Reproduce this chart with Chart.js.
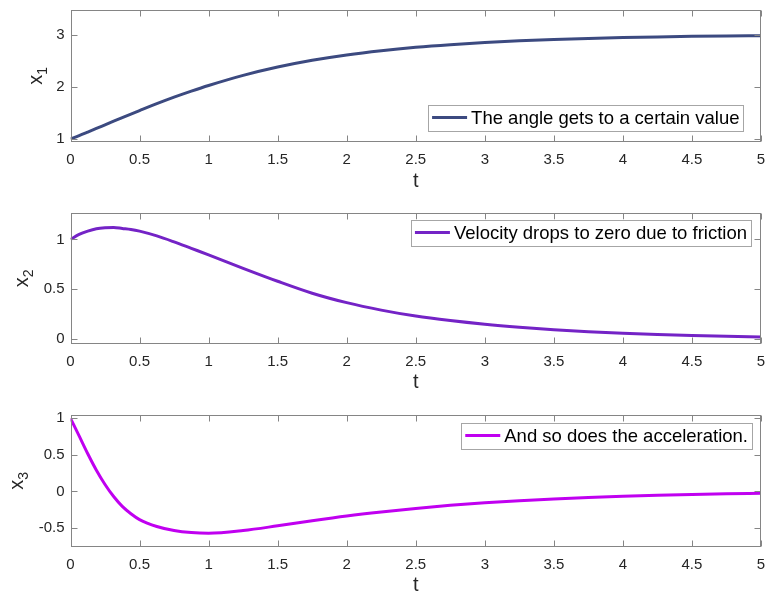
<!DOCTYPE html>
<html>
<head>
<meta charset="utf-8">
<script src="https://cdn.jsdelivr.net/npm/chart.js@4/dist/chart.umd.min.js"></script>
<style>
  html, body { margin: 0; padding: 0; background: #ffffff; overflow: hidden; }
  body { width: 767px; height: 593px; position: relative; }
  canvas { position: absolute; left: 0; }
</style>
</head>
<body>
<canvas id="c1" width="767" height="200" style="top:0px"></canvas>
<canvas id="c2" width="767" height="200" style="top:200px"></canvas>
<canvas id="c3" width="767" height="200" style="top:400px"></canvas>
<script>
// ---- data ----
const tValues = [0, 0.0625, 0.125, 0.1875, 0.25, 0.3125, 0.375, 0.4375, 0.5,
                 0.625, 0.75, 0.875, 1,
                 1.25, 1.5, 1.75, 2, 2.25, 2.5, 2.75, 3, 3.25, 3.5, 3.75, 4, 4.25, 4.5, 4.75, 5];
const angle = [1.00, 1.064, 1.132, 1.201, 1.271, 1.341, 1.41, 1.478, 1.545,
               1.677, 1.802, 1.918, 2.027,
               2.222, 2.383, 2.513, 2.616, 2.697, 2.762, 2.813, 2.854, 2.887, 2.913, 2.934, 2.95, 2.963, 2.973, 2.981, 2.987];
const velocity = [1.00, 1.05, 1.083, 1.107, 1.117, 1.12, 1.11, 1.10, 1.083,
                  1.035, 0.975, 0.91, 0.845,
                  0.71, 0.58, 0.46, 0.365, 0.29, 0.23, 0.185, 0.148, 0.118, 0.093, 0.073, 0.057, 0.045, 0.035, 0.027, 0.021];
const acceleration = [1.00, 0.76, 0.515, 0.29, 0.095, -0.07, -0.205, -0.305, -0.385,
                      -0.48, -0.535, -0.563, -0.572,
                      -0.535, -0.47, -0.40, -0.335, -0.28, -0.232, -0.19, -0.155, -0.126, -0.102, -0.082, -0.066, -0.053, -0.042, -0.033, -0.026];

const xTicks = [0, 0.5, 1, 1.5, 2, 2.5, 3, 3.5, 4, 4.5, 5];
const xTickLabels = ['0', '0.5', '1', '1.5', '2', '2.5', '3', '3.5', '4', '4.5', '5'];
const yTicks1 = [1, 2, 3];
const yTickLabels1 = ['1', '2', '3'];
const yTicks2 = [0, 0.5, 1];
const yTickLabels2 = ['0', '0.5', '1'];
const yTicks3 = [-0.5, 0, 0.5, 1];
const yTickLabels3 = ['-0.5', '0', '0.5', '1'];

const legend1 = 'The angle gets to a certain value';
const legend2 = 'Velocity drops to zero due to friction';
const legend3 = 'And so does the acceleration.';
const xTitle = 't';
const yTitleBase = 'x';
const yTitleSubs = ['1', '2', '3'];

// ---- styling / layout ----
const FONT = '"Liberation Sans", Arial, Helvetica, sans-serif';
const TEXT = '#262626';
const AXIS = '#858585';

const boxPlugin = {
  id: 'matlabBox',
  afterDatasetsDraw(chart, args, opts) {
    const { ctx, chartArea: a, scales: { x, y } } = chart;
    const L = Math.round(a.left) + 0.5, R = Math.round(a.right) - 0.5;
    const T = Math.round(a.top) + 0.5, B = Math.round(a.bottom) - 0.5;
    const tl = 6;
    ctx.save();
    ctx.strokeStyle = AXIS;
    ctx.lineWidth = 1;
    ctx.beginPath();
    opts.xTicks.forEach(v => {
      const px = Math.round(x.getPixelForValue(v)) + 0.5;
      ctx.moveTo(px, B); ctx.lineTo(px, B - tl);
      ctx.moveTo(px, T); ctx.lineTo(px, T + tl);
    });
    opts.yTicks.forEach(v => {
      const py = Math.round(y.getPixelForValue(v)) + 0.5;
      ctx.moveTo(L, py); ctx.lineTo(L + tl, py);
      ctx.moveTo(R, py); ctx.lineTo(R - tl, py);
    });
    ctx.stroke();
    ctx.strokeRect(L, T, R - L, B - T);
    ctx.restore();
  },
  afterDraw(chart, args, opts) {
    const { ctx, chartArea: a } = chart;
    // y label with subscript
    ctx.save();
    ctx.fillStyle = TEXT;
    ctx.font = '20px ' + FONT;
    const wx = ctx.measureText(yTitleBase).width;
    ctx.font = '14px ' + FONT;
    const ws = ctx.measureText(opts.ySub).width;
    const cy = (a.top + a.bottom) / 2;
    ctx.translate(opts.yLabelX, cy);
    ctx.rotate(-Math.PI / 2);
    ctx.textBaseline = 'alphabetic';
    ctx.textAlign = 'left';
    ctx.font = '20px ' + FONT;
    ctx.fillText(yTitleBase, -(wx + ws) / 2, 0);
    ctx.font = '14px ' + FONT;
    ctx.fillText(opts.ySub, -(wx + ws) / 2 + wx, 5);
    ctx.restore();

    // legend box
    const ds = chart.data.datasets[0];
    ctx.save();
    ctx.font = '18.5px ' + FONT;
    const tw = ctx.measureText(ds.label).width;
    const bw = 4 + 35 + 4 + tw + 4;
    const bh = 26;
    const right = a.right - opts.legRight;
    const top = opts.legBottom != null ? a.bottom - opts.legBottom - bh : a.top + opts.legTop;
    const left = right - bw;
    ctx.fillStyle = '#ffffff';
    ctx.fillRect(left, top, bw, bh);
    ctx.strokeStyle = '#a6a6a6';
    ctx.lineWidth = 1;
    ctx.strokeRect(Math.round(left) + 0.5, Math.round(top) + 0.5, Math.round(bw), bh);
    ctx.strokeStyle = ds.borderColor;
    ctx.lineWidth = 3;
    ctx.beginPath();
    ctx.moveTo(left + 4, top + bh / 2);
    ctx.lineTo(left + 39, top + bh / 2);
    ctx.stroke();
    ctx.fillStyle = '#000000';
    ctx.textBaseline = 'middle';
    ctx.textAlign = 'left';
    ctx.fillText(ds.label, left + 43, top + bh / 2 + 1);
    ctx.restore();
  }
};

function makePanel(id, values, label, color, yMin, yMax, yTicks, yLabels, geo) {
  const points = tValues.map((t, i) => ({ x: t, y: values[i] }));
  return new Chart(document.getElementById(id), {
    type: 'line',
    data: {
      datasets: [{
        label: label,
        data: points,
        borderColor: color,
        borderWidth: 3,
        pointRadius: 0,
        fill: false,
        cubicInterpolationMode: 'monotone'
      }]
    },
    options: {
      responsive: false,
      animation: false,
      devicePixelRatio: 1,
      layout: { padding: { top: geo.padTop, right: 6, left: 0, bottom: 0 } },
      plugins: {
        legend: { display: false },
        tooltip: { enabled: false },
        matlabBox: {
          xTicks: xTicks, yTicks: yTicks, ySub: geo.ySub, yLabelX: geo.yLabelX,
          legRight: geo.legRight, legTop: geo.legTop, legBottom: geo.legBottom
        }
      },
      scales: {
        x: {
          type: 'linear',
          min: 0, max: 5,
          afterBuildTicks: s => { s.ticks = xTicks.map(v => ({ value: v })); },
          afterFit: s => { s.height = geo.xHeight; s.paddingLeft = 0; s.paddingRight = 0; },
          grid: { display: false, drawTicks: false },
          border: { display: false },
          ticks: {
            padding: 9,
            color: TEXT,
            font: { family: FONT, size: 15 },
            maxRotation: 0,
            autoSkip: false,
            callback: (v, i) => xTickLabels[i]
          },
          title: {
            display: true,
            text: xTitle,
            color: TEXT,
            font: { family: FONT, size: 20, lineHeight: 1 },
            padding: { top: 0, bottom: geo.tPad }
          }
        },
        y: {
          type: 'linear',
          min: yMin, max: yMax,
          afterBuildTicks: s => { s.ticks = yTicks.map(v => ({ value: v })); },
          afterFit: s => { s.width = 70.5; s.paddingTop = 0; s.paddingBottom = 0; },
          grid: { display: false, drawTicks: false },
          border: { display: false },
          ticks: {
            padding: 6,
            color: TEXT,
            font: { family: FONT, size: 15 },
            autoSkip: false,
            callback: (v, i) => yLabels[i]
          }
        }
      }
    },
    plugins: [boxPlugin]
  });
}

makePanel('c1', angle, legend1, '#3c4a80', 0.94, 3.49, yTicks1, yTickLabels1,
  { padTop: 9.5, xHeight: 58, tPad: 9, ySub: yTitleSubs[0], yLabelX: 42, legRight: 17.5, legBottom: 11.5 });
makePanel('c2', velocity, legend2, '#7423c6', -0.05, 1.27, yTicks2, yTickLabels2,
  { padTop: 12.5, xHeight: 56, tPad: 8, ySub: yTitleSubs[1], yLabelX: 27.5, legRight: 10, legTop: 7 });
makePanel('c3', acceleration, legend3, '#c000f0', -0.753, 1.045, yTicks3, yTickLabels3,
  { padTop: 15, xHeight: 53.5, tPad: 5, ySub: yTitleSubs[2], yLabelX: 23, legRight: 9, legTop: 7.5 });
</script>
</body>
</html>
